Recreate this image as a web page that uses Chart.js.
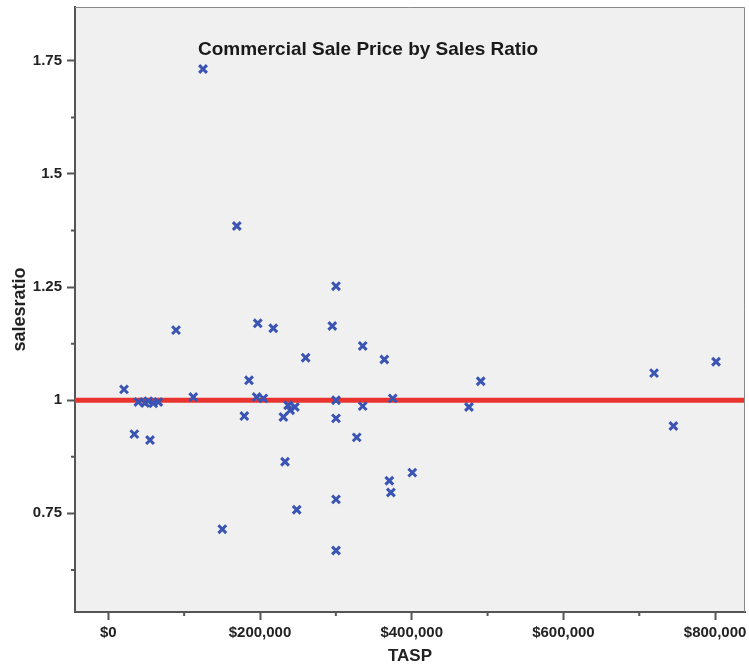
<!DOCTYPE html>
<html>
<head>
<meta charset="utf-8">
<script src="https://cdn.jsdelivr.net/npm/chart.js@4/dist/chart.umd.min.js"></script>
<style>
  html, body { margin: 0; padding: 0; background: #fff; }
  #wrap { width: 749px; height: 670px; }
</style>
</head>
<body>
<div id="wrap"><canvas id="chart" width="749" height="670"></canvas></div>
<script>
// Sale price (TASP) vs sales ratio
const tasp = [124900, 169400, 89300, 20700, 39600, 48400, 52700, 59300, 65900, 112000,
  34300, 55000, 197000, 217500, 185500, 195600, 204400, 179300, 230800, 237000,
  246000, 239700, 300200, 295300, 335400, 363900, 260200, 300200, 300200, 335400,
  375000, 327500, 233000, 370500, 372500, 400800, 300200, 248400, 150300, 300200,
  491000, 475500, 719500, 745000, 801200];
const salesratio = [1.732, 1.385, 1.155, 1.024, 0.996, 0.994, 0.998, 0.993, 0.996, 1.007,
  0.925, 0.912, 1.170, 1.159, 1.044, 1.007, 1.004, 0.965, 0.963, 0.989,
  0.985, 0.978, 1.252, 1.164, 1.120, 1.090, 1.094, 1.000, 0.960, 0.987,
  1.004, 0.918, 0.864, 0.822, 0.796, 0.840, 0.781, 0.758, 0.715, 0.668,
  1.042, 0.985, 1.060, 0.943, 1.085];

const refRatio = 1;

const xRange = [-43900, 839400];
const yRange = [0.532, 1.869];

const xTickValues = [0, 100000, 200000, 300000, 400000, 500000, 600000, 700000, 800000];
const xTickLabels = ['$0', '', '$200,000', '', '$400,000', '', '$600,000', '', '$800,000'];
const yTickValues = [0.625, 0.75, 0.875, 1, 1.125, 1.25, 1.375, 1.5, 1.625, 1.75];
const yTickLabels = ['', '0.75', '', '1', '', '1.25', '', '1.5', '', '1.75'];

const points = tasp.map((v, i) => ({ x: v, y: salesratio[i] }));

const tickFont = { family: 'Liberation Sans, Arial, sans-serif', size: 15, weight: 'bold' };
const titleFont = { family: 'Liberation Sans, Arial, sans-serif', size: 18, weight: 'bold' };

function noPad(s) {
  s.paddingTop = 0; s.paddingBottom = 0; s.paddingLeft = 0; s.paddingRight = 0;
}

// plot background, frame, minor ticks and inner title
const frame = {
  id: 'frame',
  beforeDraw(chart) {
    const a = chart.chartArea, c = chart.ctx;
    c.save();
    c.fillStyle = '#f0f0f0';
    c.fillRect(a.left, a.top, a.right - a.left, a.bottom - a.top);
    c.restore();
  },
  afterDraw(chart) {
    const a = chart.chartArea, c = chart.ctx;
    const xs = chart.scales.x, ys = chart.scales.y;
    c.save();
    c.strokeStyle = '#8a8a8a';
    c.lineWidth = 1;
    c.beginPath();
    c.moveTo(a.left, a.top + 0.5); c.lineTo(a.right - 0.5, a.top + 0.5); c.lineTo(a.right - 0.5, a.bottom);
    c.stroke();
    c.strokeStyle = '#555';
    c.lineWidth = 2;
    c.beginPath();
    yTickValues.forEach((v, i) => {
      if (yTickLabels[i]) return;
      const p = ys.getPixelForValue(v);
      c.moveTo(a.left - 4, p); c.lineTo(a.left, p);
    });
    xTickValues.forEach((v, i) => {
      if (xTickLabels[i]) return;
      const p = xs.getPixelForValue(v);
      c.moveTo(p, a.bottom); c.lineTo(p, a.bottom + 4);
    });
    c.stroke();
    c.fillStyle = '#1a1a1a';
    c.font = 'bold 19px "Liberation Sans", Arial, sans-serif';
    c.textAlign = 'left';
    c.textBaseline = 'middle';
    c.fillText('Commercial Sale Price by Sales Ratio', 198, 50);
    c.restore();
  }
};

new Chart(document.getElementById('chart'), {
  type: 'scatter',
  data: {
    datasets: [
      {
        type: 'scatter',
        data: points,
        pointStyle: 'crossRot',
        pointRadius: 5.5,
        pointBorderWidth: 3,
        borderColor: '#3a54b4',
        backgroundColor: '#3a54b4',
        order: 1
      },
      {
        type: 'line',
        data: [{ x: xRange[0], y: refRatio }, { x: xRange[1], y: refRatio }],
        borderColor: '#e8332f',
        borderWidth: 5,
        pointRadius: 0,
        order: 2
      }
    ]
  },
  options: {
    responsive: false,
    animation: false,
    layout: { autoPadding: false, padding: { top: 7, right: 4, left: 0, bottom: 0 } },
    plugins: { legend: { display: false }, tooltip: { enabled: false } },
    scales: {
      x: {
        type: 'linear',
        min: xRange[0], max: xRange[1],
        afterBuildTicks: s => { s.ticks = xTickValues.map(v => ({ value: v })); },
        afterFit: s => { s.height = 58; noPad(s); },
        ticks: {
          font: tickFont, color: '#222', padding: 4, maxRotation: 0, autoSkip: false,
          callback: (v, i) => xTickLabels[i]
        },
        grid: {
          drawOnChartArea: false, tickLength: 8, tickWidth: 2,
          tickColor: ctx => (xTickLabels[ctx.index] ? '#555' : 'transparent')
        },
        border: { color: '#555', width: 2 },
        title: { display: true, text: 'TASP', font: { ...titleFont, size: 17 }, color: '#222', padding: { top: 0, bottom: 3 } }
      },
      y: {
        type: 'linear',
        min: yRange[0], max: yRange[1],
        afterBuildTicks: s => { s.ticks = yTickValues.map(v => ({ value: v })); },
        afterFit: s => { s.width = 75; noPad(s); },
        ticks: {
          font: tickFont, color: '#222', padding: 5, autoSkip: false,
          callback: (v, i) => yTickLabels[i]
        },
        grid: {
          drawOnChartArea: false, tickLength: 8, tickWidth: 2,
          tickColor: ctx => (yTickLabels[ctx.index] ? '#555' : 'transparent')
        },
        border: { color: '#555', width: 2 },
        title: { display: true, text: 'salesratio', font: titleFont, color: '#222', padding: { top: 9, bottom: 0 } }
      }
    }
  },
  plugins: [frame]
});
</script>
</body>
</html>
